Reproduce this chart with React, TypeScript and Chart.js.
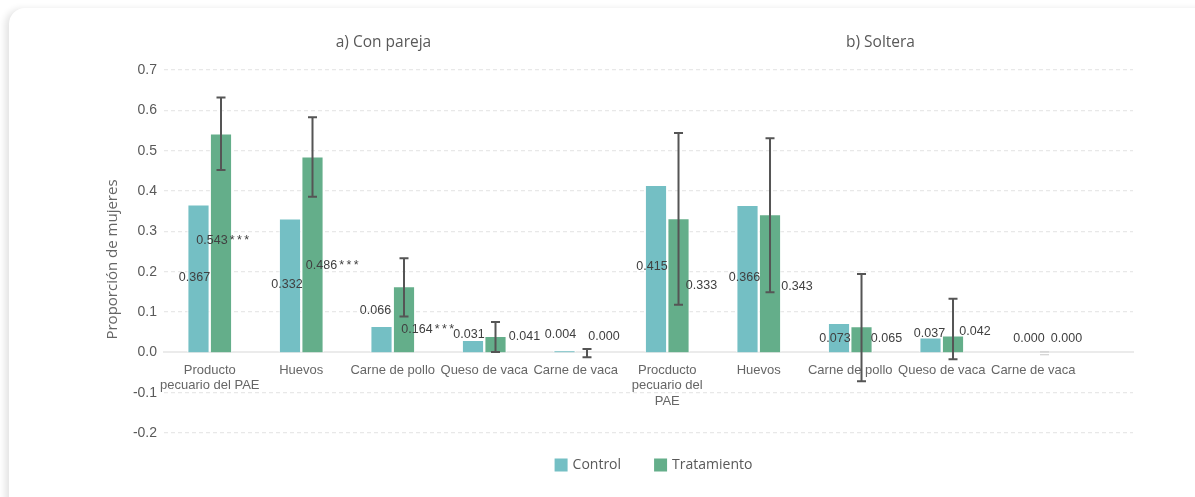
import { useEffect, useRef } from "react";
import { Chart, registerables } from "chart.js";

Chart.register(...registerables);

// Categories: first five belong to "Con pareja", last five to "Soltera"
const categories: string[][] = [
  ["Producto", "pecuario del PAE"],
  ["Huevos"],
  ["Carne de pollo"],
  ["Queso de vaca"],
  ["Carne de vaca"],
  ["Procducto", "pecuario del", "PAE"],
  ["Huevos"],
  ["Carne de pollo"],
  ["Queso de vaca"],
  ["Carne de vaca"],
];

const seriesNames = ["Control", "Tratamiento"];
const controlValues = [0.367, 0.332, 0.066, 0.031, 0.004, 0.415, 0.366, 0.073, 0.037, 0.0];
const treatmentValues = [0.543, 0.486, 0.164, 0.041, 0.0, 0.333, 0.343, 0.065, 0.042, 0.0];
// Confidence interval bounds for the treatment group
const treatmentLow = [0.452, 0.386, 0.089, 0.001, -0.012, 0.118, 0.149, -0.072, -0.017, -0.006];
const treatmentHigh = [0.632, 0.583, 0.233, 0.075, 0.008, 0.544, 0.531, 0.194, 0.133, 0.001];
const treatmentStars = ["***", "***", "***", "", "", "", "", "", "", ""];

const panelTitles = ["a) Con pareja", "b) Soltera"];
const yAxisTitle = "Proporción de mujeres";
const yMin = -0.2;
const yMax = 0.7;
const yStep = 0.1;

const controlColor = "#74BFC4";
const treatmentColor = "#64AE8A";
const textDark = "#404040";
const textGray = "#595959";

// Label placement: pixel nudges from each bar's centre (x) and mid-height (y)
const controlLabelNudge: [number, number][] = [
  [-4, -1], [-3, -1], [-6, -28], [-4, -12], [-4, -17],
  [-4, -2], [-3, -1], [-4, 1], [-1, -11], [7, -14],
];
const treatmentLabelNudge: [number, number][] = [
  [-9, -2], [9, 11], [13, 10], [29, -8], [17, -16],
  [23, 0], [27, 3], [25, -1], [22, -12], [22, -14],
];
// Horizontal centres of the panel titles, as fractions of the plot width
const panelTitleAt = [0.2265, 0.7394];

const VALUE_FONT = '12.5px "Liberation Sans", Arial, sans-serif';

const overlay = {
  id: "overlay",
  afterDatasetsDraw(chart: any) {
    const { ctx } = chart;
    const yScale = chart.scales.y;
    const cMeta = chart.getDatasetMeta(0);
    const tMeta = chart.getDatasetMeta(1);

    // error bars on the treatment bars
    ctx.save();
    tMeta.data.forEach((el: any, i: number) => {
      const top = yScale.getPixelForValue(treatmentHigh[i]);
      const bot = yScale.getPixelForValue(treatmentLow[i]);
      const tiny = bot - top < 4;
      ctx.strokeStyle = tiny ? "#c8c8c8" : "#555555";
      ctx.lineWidth = tiny ? 1 : 2;
      ctx.beginPath();
      if (!tiny) {
        ctx.moveTo(el.x, top);
        ctx.lineTo(el.x, bot);
      }
      ctx.moveTo(el.x - 4.5, top);
      ctx.lineTo(el.x + 4.5, top);
      ctx.moveTo(el.x - 4.5, bot);
      ctx.lineTo(el.x + 4.5, bot);
      ctx.stroke();
    });
    ctx.restore();

    // value labels
    ctx.save();
    ctx.font = VALUE_FONT;
    ctx.fillStyle = textDark;
    ctx.textBaseline = "middle";
    ctx.textAlign = "center";
    cMeta.data.forEach((el: any, i: number) => {
      const [dx, dy] = controlLabelNudge[i];
      const mid = (el.y + el.base) / 2;
      ctx.fillText(controlValues[i].toFixed(3), el.x + dx, mid + dy);
    });
    tMeta.data.forEach((el: any, i: number) => {
      const [dx, dy] = treatmentLabelNudge[i];
      const mid = (el.y + el.base) / 2;
      const txt = treatmentValues[i].toFixed(3);
      const cx = el.x + dx;
      const cy = mid + dy;
      ctx.textAlign = "center";
      ctx.fillText(txt, cx, cy);
      const stars = treatmentStars[i];
      if (stars) {
        const w = ctx.measureText(txt).width;
        let sx = cx + w / 2 + 2;
        ctx.textAlign = "left";
        for (const ch of stars) {
          ctx.fillText(ch, sx, cy);
          sx += 7.3;
        }
      }
    });
    ctx.restore();
  },
  afterDraw(chart: any) {
    const { ctx, chartArea: area } = chart;
    ctx.save();
    // panel titles
    ctx.font = '15.5px "Open Sans", sans-serif';
    ctx.fillStyle = textGray;
    ctx.textAlign = "center";
    ctx.textBaseline = "middle";
    panelTitles.forEach((t, i) => {
      ctx.fillText(t, area.left + area.width * panelTitleAt[i], area.top - 27);
    });
    // y axis title
    ctx.font = '15px "Open Sans", sans-serif';
    ctx.save();
    ctx.translate(area.left - 51, (area.top + area.bottom) / 2 + 8);
    ctx.rotate(-Math.PI / 2);
    ctx.fillStyle = "#666666";
    ctx.fillText(yAxisTitle, 0, 0);
    ctx.restore();

    // legend
    const items = chart.data.datasets.map((ds: any) => ({ label: ds.label, color: ds.backgroundColor }));
    ctx.font = '14px "Open Sans", sans-serif';
    const box = 13;
    const gap = 5;
    const spacing = 33;
    const widths = items.map((it: any) => box + gap + ctx.measureText(it.label).width);
    const total = widths.reduce((a: number, b: number) => a + b, 0) + spacing * (items.length - 1);
    let x = area.left + area.width / 2 + 5 - total / 2;
    const cy = area.bottom + 32;
    ctx.textAlign = "left";
    items.forEach((it: any, i: number) => {
      ctx.fillStyle = it.color;
      ctx.fillRect(x, cy - box / 2, box, box);
      ctx.fillStyle = textGray;
      ctx.fillText(it.label, x + box + gap, cy);
      x += widths[i] + spacing;
    });
    ctx.restore();
  },
};

function buildChart(canvas: HTMLCanvasElement) {
  const toPoints = (vals: number[]) => vals.map((v, i) => ({ x: i, y: v }));
  return new Chart(canvas, {
    type: "bar",
    data: {
      datasets: [
        {
          label: seriesNames[0],
          data: toPoints(controlValues),
          backgroundColor: controlColor,
          borderColor: "rgba(255,255,255,0.55)",
          borderWidth: 1.5,
          barThickness: 22.5,
        },
        {
          label: seriesNames[1],
          data: toPoints(treatmentValues),
          backgroundColor: treatmentColor,
          borderColor: "rgba(255,255,255,0.55)",
          borderWidth: 1.5,
          barThickness: 22.5,
        },
      ],
    },
    options: {
      responsive: false,
      animation: false,
      events: [],
      layout: { padding: { top: 70, bottom: 64, left: 95, right: 62 } },
      plugins: {
        legend: { display: false },
        tooltip: { enabled: false },
        title: { display: false },
      },
      scales: {
        x: {
          type: "linear",
          position: { y: 0 } as any,
          min: -0.5,
          max: 10.09,
          offset: false,
          grid: { display: false, drawTicks: false },
          border: { display: true, color: "#ebebeb", width: 2 },
          ticks: {
            stepSize: 1,
            includeBounds: false,
            autoSkip: false,
            maxRotation: 0,
            minRotation: 0,
            padding: 10,
            color: "#666666",
            font: { family: '"Liberation Sans", Arial, sans-serif', size: 13 },
            callback: (v: any) => {
              const n = Number(v);
              const r = Math.round(n);
              return Math.abs(n - r) < 1e-6 && categories[r] ? categories[r] : "";
            },
          },
        },
        y: {
          type: "linear",
          min: yMin,
          max: yMax,
          afterFit: (scale: any) => {
            scale.width = 69;
          },
          grid: {
            drawTicks: false,
            color: (c: any) => (Math.abs(c.tick?.value ?? 1) < 1e-9 ? "rgba(0,0,0,0)" : "#e8e8e8"),
            lineWidth: 1.3,
          },
          border: { display: false, dash: [4, 3] },
          ticks: {
            stepSize: yStep,
            padding: 7,
            color: textGray,
            font: { family: '"Liberation Sans", Arial, sans-serif', size: 14 },
            callback: (v: any) => {
              const n = Number(v);
              return (Math.abs(n) < 1e-9 ? 0 : n).toFixed(1);
            },
          },
        },
      },
    },
    plugins: [overlay],
  });
}

export default function App() {
  const ref = useRef<HTMLCanvasElement>(null);
  useEffect(() => {
    let chart: Chart | null = null;
    let cancelled = false;
    const create = () => {
      if (cancelled || !ref.current) return;
      chart = buildChart(ref.current);
    };
    const fonts = (document as any).fonts;
    if (fonts && fonts.load) {
      Promise.all([
        fonts.load('15px "Open Sans"'),
        fonts.load('14px "Liberation Sans"'),
      ]).then(create, create);
    } else {
      create();
    }
    return () => {
      cancelled = true;
      if (chart) chart.destroy();
    };
  }, []);

  return (
    <div style={{ position: "fixed", inset: 0, background: "#ffffff", overflow: "hidden" }}>
      <div
        style={{
          position: "absolute",
          left: 9,
          top: 8,
          right: -300,
          bottom: -40,
          borderRadius: 16,
          background: "#ffffff",
          boxShadow: "-4px 1px 7px rgba(0,0,0,0.11)",
        }}
      />
      <canvas
        ref={ref}
        width={1195}
        height={497}
        style={{ position: "absolute", left: 0, top: 0, width: 1195, height: 497 }}
      />
    </div>
  );
}
